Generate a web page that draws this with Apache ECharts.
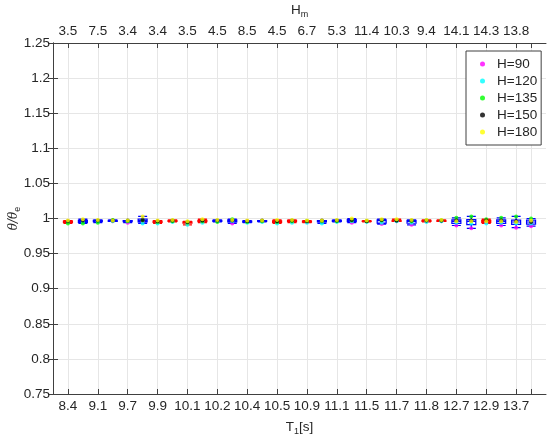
<!DOCTYPE html>
<html lang="en">
<head>
    <meta charset="UTF-8">
    <script src="https://cdn.jsdelivr.net/npm/echarts@6/dist/echarts.min.js"></script>
    <title>theta ratio boxplot</title>
    <style>
        html,body{
            margin:0;
            padding:0;
            background:#fff;
        }
    </style>
</head>
<body>
    <div id="main" style="width:550px;height:439px"></div>
    <script>
        // tick labels (one every second box)
        var T1 = ['8.4','9.1','9.7','9.9','10.1','10.2','10.4','10.5','10.9','11.1','11.5','11.7','11.8','12.7','12.9','13.7'];
        var Hm = ['3.5','7.5','3.4','3.4','3.5','4.5','8.5','4.5','6.7','5.3','11.4','10.3','9.4','14.1','14.3','13.8'];

        // box outline colour per position (r = red, b = blue)
        var boxGroup = ['r','b','b','b','b','b','r','r','r','r','b','b','b','b','r','r','r','b','b','b','r','b','r','b','r','r','b','b','r','b','b','b'];

        // theta/theta_e for each wave height, 32 positions
        var H90  = [0.996,0.996,0.996,0.996,0.994,0.996,0.996,0.996,0.994,0.996,0.996,0.993,0.996,0.996,0.995,0.996,0.995,0.996,0.996,0.994,0.996,0.992,0.996,0.991,0.996,0.996,0.990,0.986,0.995,0.990,0.987,0.989];
        var H120 = [0.995,0.995,0.996,0.996,0.996,0.993,0.993,0.995,0.991,0.994,0.996,0.996,0.994,0.995,0.993,0.994,0.994,0.993,0.995,0.996,0.995,0.994,0.996,0.994,0.995,0.996,0.994,0.993,0.993,0.994,0.993,0.993];
        var H135 = [0.993,0.993,0.994,0.998,0.996,0.997,0.995,0.996,0.994,0.996,0.995,0.999,0.995,0.996,0.995,0.996,0.996,0.996,0.996,0.997,0.996,0.997,0.997,0.996,0.997,0.997,1.001,1.003,0.999,1.001,1.003,1.000];
        var H150 = [0.996,0.997,0.997,0.997,0.997,0.998,0.996,0.997,0.995,0.997,0.997,0.997,0.996,0.997,0.996,0.997,0.996,0.997,0.997,0.998,0.996,0.998,0.997,0.997,0.997,0.997,0.997,0.997,0.997,0.997,0.996,0.995];
        var H180 = [0.997,0.999,0.998,0.997,0.997,1.003,0.997,0.998,0.996,0.999,0.998,0.998,0.997,0.997,0.998,0.998,0.997,0.997,0.998,1.000,0.997,0.999,0.999,0.998,0.998,0.998,0.996,0.996,0.996,0.996,0.995,0.997];

        var groups = [
            {name:'H=90',  data:H90,  color:'#ff00ff'},
            {name:'H=120', data:H120, color:'#00ffff'},
            {name:'H=135', data:H135, color:'#00ff00'},
            {name:'H=150', data:H150, color:'#000000'},
            {name:'H=180', data:H180, color:'#ffff00'}
        ];

        var labelPos = [], tickPos = [];
        for (var i = 0; i < T1.length; i++) labelPos.push(2 * i + 1);
        tickPos = labelPos.concat([32]);

        function pct(s, p) {
            // matlab style percentile
            var pos = p * s.length + 0.5;
            if (pos <= 1) return s[0];
            if (pos >= s.length) return s[s.length - 1];
            var k = Math.floor(pos), f = pos - k;
            return s[k - 1] + f * (s[k] - s[k - 1]);
        }

        var boxData = [];
        for (var j = 0; j < boxGroup.length; j++) {
            var s = groups.map(function (g) { return g.data[j]; }).sort(function (a, b) { return a - b; });
            var c = boxGroup[j] == 'r' ? '#ff0000' : '#0000ff';
            boxData.push({
                value: [j + 1, s[0], pct(s, 0.25), pct(s, 0.5), pct(s, 0.75), s[s.length - 1]],
                itemStyle: {color: 'rgba(255,255,255,0)', borderColor: c}
            });
        }

        var txt = '#262626';
        var lineCol = '#404040';
        var font = 'Liberation Sans, Arial, sans-serif';

        function xAxisDef(pos, labels, nameRich) {
            return {
                type: 'value',
                position: pos,
                min: 0,
                max: 33,
                name: nameRich,
                nameLocation: 'middle',
                nameGap: 24,
                nameTextStyle: {
                    color: txt,
                    fontFamily: font,
                    rich: {
                        n: {fontSize: 13.5, color: txt, fontFamily: font},
                        s: {fontSize: 9, color: txt, fontFamily: font, padding: [9, 0, 0, 0]}
                    }
                },
                axisLine: {show: true, lineStyle: {color: lineCol, width: 1}},
                axisTick: {show: true, inside: true, length: 5, customValues: tickPos, lineStyle: {color: lineCol}},
                axisLabel: {
                    customValues: labelPos,
                    margin: 5,
                    color: txt,
                    fontSize: 13.5,
                    fontFamily: font,
                    formatter: function (v) { return labels[(v - 1) / 2]; }
                },
                splitLine: {show: pos == 'bottom', lineStyle: {color: '#e6e6e6', width: 1}}
            };
        }

        var myChart = echarts.init(document.getElementById('main'));
        var option = {
            animation: false,
            backgroundColor: '#fff',
            grid: {left: 53, right: 4, top: 43, bottom: 45, outerBoundsMode: 'none'},
            legend: {
                orient: 'vertical',
                left: 466,
                top: 51,
                padding: [6, 4, 6, 14],
                itemWidth: 5,
                itemHeight: 5,
                itemGap: 3,
                icon: 'circle',
                borderColor: lineCol,
                borderWidth: 1,
                backgroundColor: '#fff',
                textStyle: {color: txt, fontSize: 13.5, fontFamily: font, lineHeight: 14, padding: [0, 0, 0, 7]},
                data: groups.map(function (g) { return g.name; })
            },
            xAxis: [
                xAxisDef('bottom', T1, '{n|T}{s|1}{n|[s]}'),
                xAxisDef('top', Hm, '{n|H}{s|m}')
            ],
            yAxis: [{
                type: 'value',
                min: 0.75,
                max: 1.25,
                interval: 0.05,
                name: '{n|θ/θ}{s|e}',
                nameLocation: 'middle',
                nameGap: 31,
                nameMoveOverlap: false,
                nameTextStyle: {
                    rich: {
                        n: {fontSize: 12, color: txt, fontStyle: 'italic', fontFamily: 'DejaVu Serif, serif'},
                        s: {fontSize: 9, color: txt, fontFamily: font, padding: [8, 0, 0, 0]}
                    }
                },
                axisLine: {show: true, lineStyle: {color: lineCol, width: 1}},
                axisTick: {show: true, inside: true, length: 5, lineStyle: {color: lineCol}},
                axisLabel: {
                    color: txt,
                    fontSize: 13.5,
                    fontFamily: font,
                    margin: 3,
                    formatter: function (v) { return String(+v.toFixed(2)); }
                },
                splitLine: {show: true, lineStyle: {color: '#e6e6e6', width: 1}}
            }, {
                type: 'value',
                position: 'right',
                min: 0.75,
                max: 1.25,
                interval: 0.05,
                axisLine: {show: true, lineStyle: {color: lineCol, width: 1}},
                axisTick: {show: true, inside: true, length: 5, lineStyle: {color: lineCol}},
                axisLabel: {show: false},
                splitLine: {show: false}
            }],
            series: [{
                type: 'boxplot',
                xAxisIndex: 0,
                yAxisIndex: 0,
                boxWidth: [9, 9],
                itemStyle: {borderWidth: 1.2},
                data: boxData
            }].concat(groups.map(function (g) {
                return {
                    type: 'scatter',
                    name: g.name,
                    xAxisIndex: 0,
                    yAxisIndex: 0,
                    symbolSize: 4,
                    itemStyle: {color: g.color},
                    data: g.data.map(function (v, k) { return [k + 1, v]; })
                };
            }))
        };

        myChart.setOption(option);
    </script>
</body>
</html>
